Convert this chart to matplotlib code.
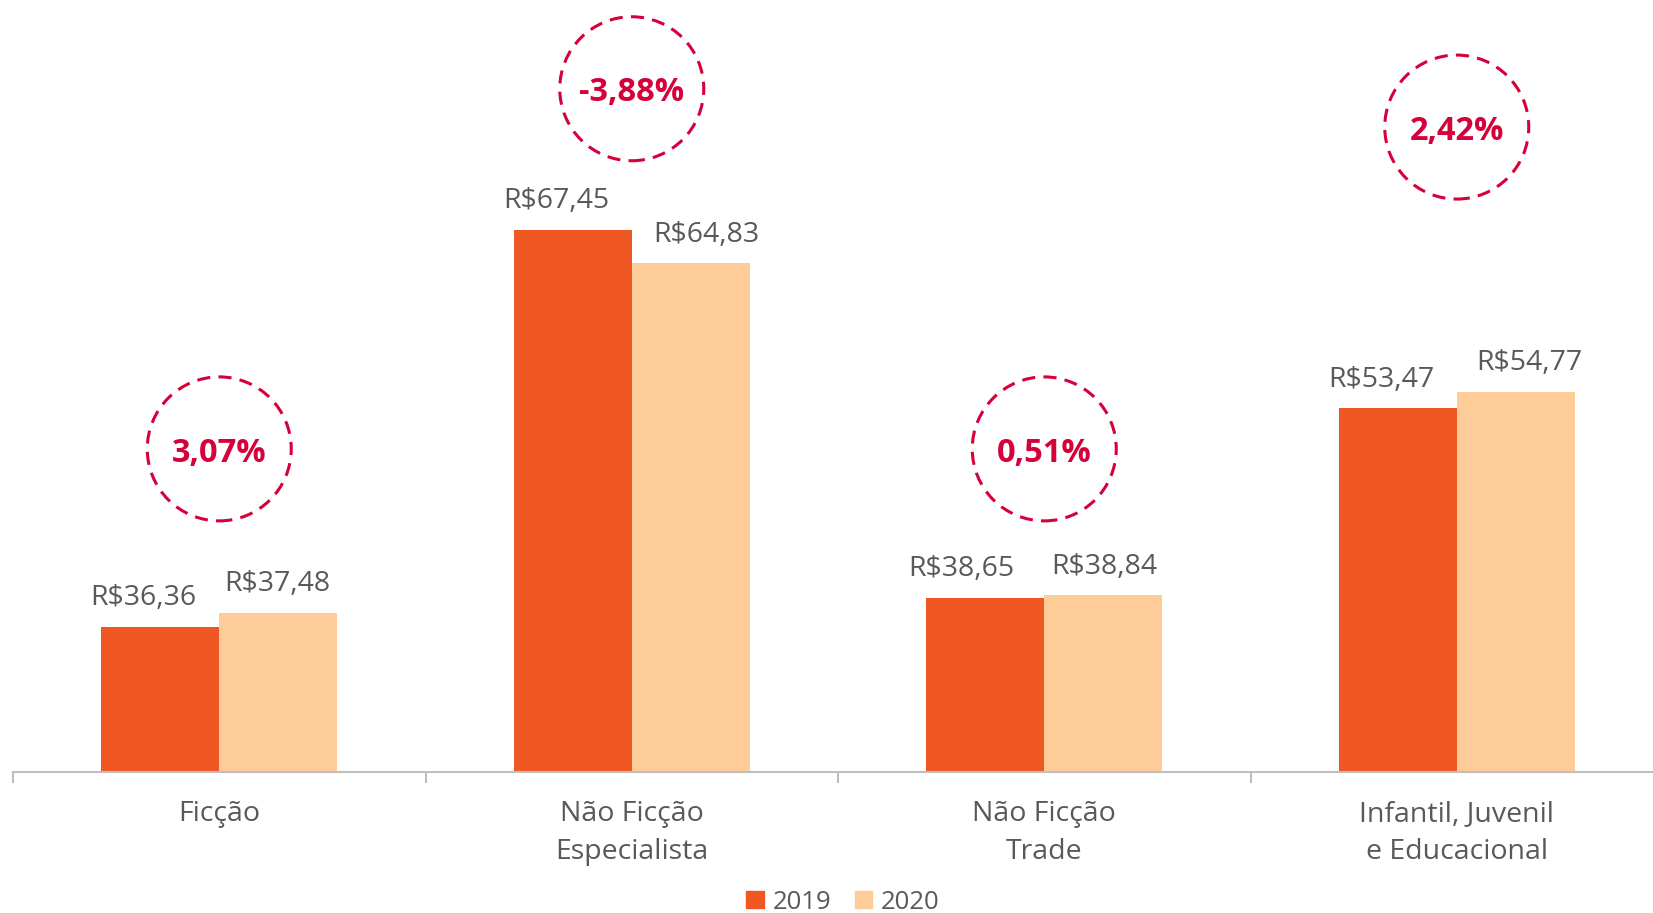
import matplotlib.pyplot as plt
import numpy as np
from matplotlib.patches import Ellipse, Patch

plt.rcParams['font.family'] = ['Open Sans', 'DejaVu Sans']

categories = ['Ficção', 'Não Ficção\nEspecialista', 'Não Ficção\nTrade', 'Infantil, Juvenil\ne Educacional']
v2019 = [36.36, 67.45, 38.65, 53.47]
v2020 = [37.48, 64.83, 38.84, 54.77]
labels2019 = ['R$36,36', 'R$67,45', 'R$38,65', 'R$53,47']
labels2020 = ['R$37,48', 'R$64,83', 'R$38,84', 'R$54,77']
changes = ['3,07%', '-3,88%', '0,51%', '2,42%']
change_y = [50.3, 78.5, 50.3, 75.5]   # where the dashed circles sit

c2019 = '#F05823'
c2020 = '#FECC98'
red = '#D6003A'
gray = '#595959'

fig = plt.figure(figsize=(16.53, 9.13), dpi=100)
ax = fig.add_axes([13 / 1653, 141 / 913, 1650 / 1653, 772 / 913])

x = np.arange(len(categories))
w = 0.286
ax.bar(x - w / 2, v2019, w, color=c2019)
ax.bar(x + w / 2, v2020, w, color=c2020)

ax.set_xlim(-0.5, 3.5)
ax.set_ylim(25, 85.45)

# value labels (nudged a bit like the original)
off19 = [-12, -12, -17, -12]
off20 = [-1, 11, 1, 10]
for i in range(len(categories)):
    ax.annotate(labels2019[i], (x[i] - w / 2, v2019[i]), xytext=(off19[i], 20.5),
                textcoords='offset points', ha='center', va='center', fontsize=20.5, color=gray)
    ax.annotate(labels2020[i], (x[i] + w / 2, v2020[i]), xytext=(off20[i], 20.5),
                textcoords='offset points', ha='center', va='center', fontsize=20.5, color=gray)

# dashed circles with the % change
px_x = ax.transData.transform((1, 0))[0] - ax.transData.transform((0, 0))[0]
px_y = ax.transData.transform((0, 1))[1] - ax.transData.transform((0, 0))[1]
r = 72
for i in range(len(categories)):
    ax.add_patch(Ellipse((x[i], change_y[i]), 2 * r / px_x, 2 * r / px_y, fill=False,
                         edgecolor=red, lw=2.2, linestyle=(0, (4.3, 2.7)), clip_on=False))
    ax.annotate(changes[i], (x[i], change_y[i]), xytext=(0, -3), textcoords='offset points',
                ha='center', va='center', fontsize=23.5, fontweight='bold', color=red)

for s in ['top', 'right', 'left']:
    ax.spines[s].set_visible(False)
ax.spines['bottom'].set_color('#BFBFBF')
ax.spines['bottom'].set_linewidth(1.5)
ax.set_yticks([])
ax.set_xticks(x)
ax.set_xticklabels(categories, fontsize=20.5, color=gray, linespacing=1.5)
ax.tick_params(axis='x', which='major', length=0, pad=20)
ax.set_xticks(np.arange(-0.5, 4, 1), minor=True)
ax.tick_params(axis='x', which='minor', length=8, width=1.5, color='#BFBFBF')

handles = [Patch(color=c2019, label='2019'), Patch(color=c2020, label='2020')]
leg = fig.legend(handles=handles, loc='center', bbox_to_anchor=(843 / 1653, 1 - 902 / 913),
                 ncol=2, frameon=False, fontsize=18.5, handlelength=0.68, handleheight=0.68,
                 handletextpad=0.35, columnspacing=0.9, borderaxespad=0, borderpad=0)
for t in leg.get_texts():
    t.set_color(gray)

fig.savefig('out.png', dpi=100)
